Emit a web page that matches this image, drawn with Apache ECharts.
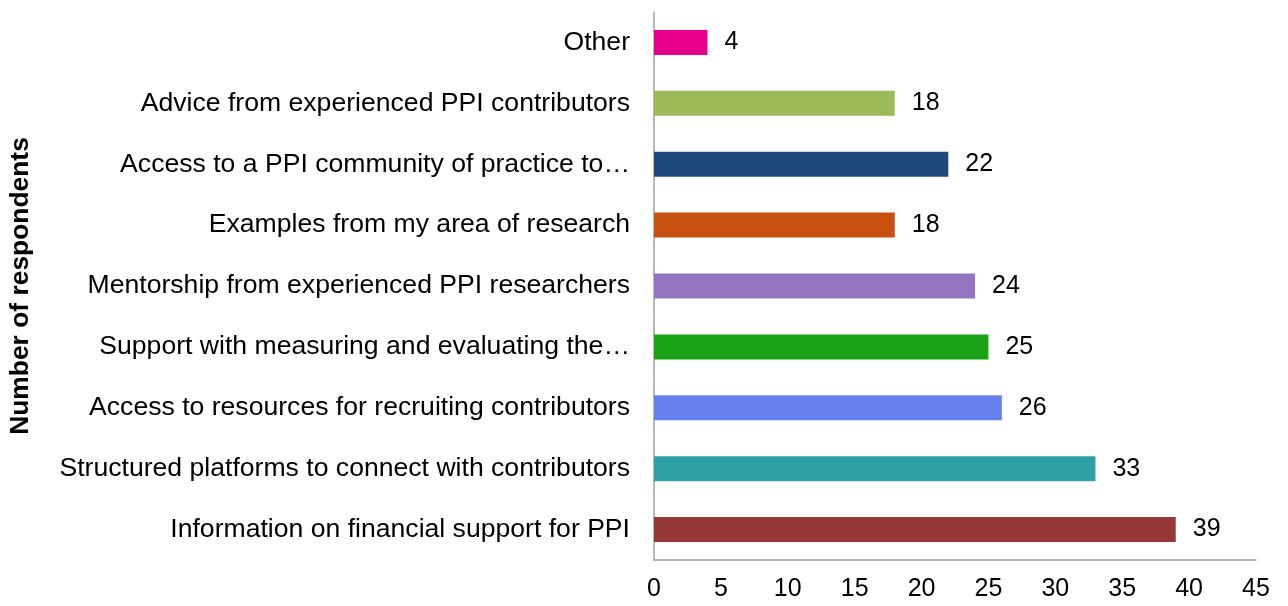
<!DOCTYPE html>
<html>
<head>
<meta charset="utf-8">
<script src="https://cdn.jsdelivr.net/npm/echarts@6/dist/echarts.min.js"></script>
<style>
  html, body { margin: 0; padding: 0; background: #fff; }
  #grid { width: 1288px; height: 606px; }
</style>
</head>
<body>
<div id="grid"></div>
<script>
// bottom to top, as drawn on the category axis
const categories = [
  'Information on financial support for PPI',
  'Structured platforms to connect with contributors',
  'Access to resources for recruiting contributors',
  'Support with measuring and evaluating the\u2026',
  'Mentorship from experienced PPI researchers',
  'Examples from my area of research',
  'Access to a PPI community of practice to\u2026',
  'Advice from experienced PPI contributors',
  'Other',
];
const values = [39, 33, 26, 25, 24, 18, 22, 18, 4];
const barColors = [
  '#953735', '#2EA0A5', '#6680EE', '#1AA314', '#9474C0',
  '#C9510F', '#1F497D', '#9BBB59', '#E6008A',
];
const xTicks = [0, 45, 5];

const myChart = echarts.init(document.getElementById('grid'));

const option = {
  animation: false,
  grid: {
    left: 654,
    right: 32,
    top: 12,
    bottom: 46,
  },
  xAxis: {
    type: 'value',
    min: xTicks[0],
    max: xTicks[1],
    interval: xTicks[2],
    axisLine: {
      show: true,
      lineStyle: { color: '#a0a0a0', width: 1.5 },
    },
    axisTick: { show: false },
    splitLine: { show: false },
    axisLabel: {
      color: '#000',
      fontFamily: 'Liberation Sans, Arial',
      fontSize: 25,
      margin: 17,
    },
  },
  yAxis: {
    type: 'category',
    data: categories,
    name: 'Number of respondents',
    nameLocation: 'middle',
    nameGap: 620,
    nameRotate: 90,
    nameTextStyle: {
      color: '#000',
      fontFamily: 'Liberation Sans, Arial',
      fontSize: 26.4,
      fontWeight: 'bold',
    },
    axisLine: {
      show: true,
      lineStyle: { color: '#a0a0a0', width: 1.5 },
    },
    axisTick: { show: false },
    axisLabel: {
      color: '#000',
      fontFamily: 'Liberation Sans, Arial',
      fontSize: 26.6,
      margin: 24,
      padding: [3, 0, 0, 0],
    },
  },
  series: [
    {
      type: 'bar',
      data: values.map((v, i) => ({ value: v, itemStyle: { color: barColors[i] } })),
      barWidth: 25,
      label: {
        show: true,
        position: 'right',
        distance: 17,
        color: '#000',
        fontFamily: 'Liberation Sans, Arial',
        fontSize: 25,
        padding: [3, 0, 0, 0],
      },
    },
  ],
};

myChart.setOption(option);
</script>
</body>
</html>
